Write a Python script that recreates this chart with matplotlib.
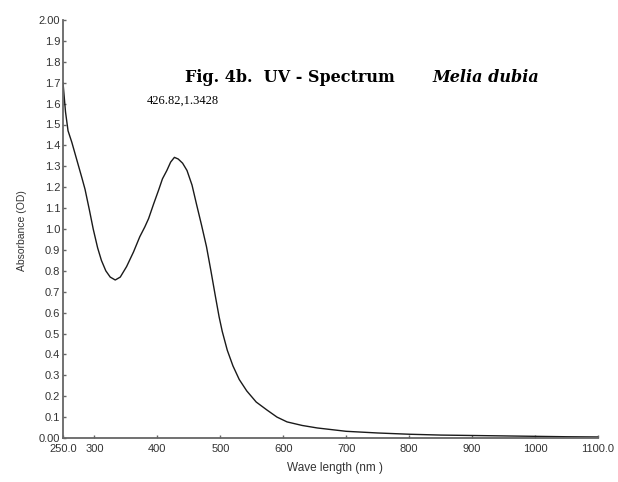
import matplotlib.pyplot as plt
import numpy as np

# UV spectrum, Melia dubia
wavelength = [250, 254, 258, 264, 272, 280, 285, 292, 298, 305, 311, 318, 325, 333, 341, 351,
              362, 372, 380, 386, 394, 402, 408, 415, 421, 427, 433, 440, 447, 455, 462, 470,
              478, 485, 492, 498, 503, 511, 520, 530, 542, 557, 574, 590, 606, 630, 654, 700,
              750, 800, 850, 900, 950, 1000, 1050, 1100]
absorbance = [1.70, 1.56, 1.47, 1.415, 1.33, 1.245, 1.19, 1.09, 1.00, 0.91, 0.85, 0.80, 0.77,
              0.756, 0.77, 0.82, 0.89, 0.963, 1.01, 1.05, 1.12, 1.187, 1.24, 1.28, 1.32, 1.3428,
              1.335, 1.315, 1.28, 1.21, 1.12, 1.02, 0.915, 0.80, 0.68, 0.58, 0.51, 0.42, 0.345,
              0.28, 0.225, 0.172, 0.134, 0.10, 0.077, 0.06, 0.048, 0.032, 0.024, 0.018, 0.014,
              0.012, 0.010, 0.008, 0.006, 0.005]

y_ticks = [round(v, 1) for v in np.arange(0, 2.01, 0.1)]
y_labels = ['0.00'] + [f'{v:.1f}' for v in y_ticks[1:-1]] + ['2.00']
x_ticks = [250, 300, 400, 500, 600, 700, 800, 900, 1000, 1100]
x_labels = ['250.0', '300', '400', '500', '600', '700', '800', '900', '1000', '1100.0']

plt.rcParams['font.family'] = ['Liberation Sans', 'DejaVu Sans']

W, H = 618, 482
fig = plt.figure(figsize=(W / 100, H / 100), dpi=100)
ax = fig.add_axes([63 / W, 1 - 438 / H, 535 / W, 418 / H])

ax.plot(wavelength, absorbance, color='#1a1a1a', lw=1.0)

ax.set_xlim(250, 1100)
ax.set_ylim(0, 2.0)
ax.set_xticks(x_ticks)
ax.set_xticklabels(x_labels)
ax.set_yticks(y_ticks)
ax.set_yticklabels(y_labels)

for side in ['top', 'right']:
    ax.spines[side].set_visible(False)
for side in ['left', 'bottom']:
    ax.spines[side].set_color('#666666')
    ax.spines[side].set_linewidth(1.3)

ax.tick_params(direction='in', length=2.5, width=1, colors='#666666',
               labelsize=8, labelcolor='#333333')
ax.tick_params(axis='x', pad=4)
ax.tick_params(axis='y', pad=2)

# axis titles, placed in pixel positions from the reference
fig.text(335 / W, 1 - 468 / H, 'Wave length (nm )', fontsize=8.5, color='#333333',
         ha='center', va='center')
fig.text(22 / W, 1 - 231 / H, 'Absorbance (OD)', fontsize=7.5, color='#333333',
         ha='center', va='center', rotation=90)

fig.text(185 / W, 1 - 78 / H, 'Fig. 4b.  UV - Spectrum', fontsize=11.5,
         fontweight='bold', family='DejaVu Serif', va='center')
fig.text(432 / W, 1 - 78 / H, 'Melia dubia', fontsize=11.5, fontweight='bold',
         fontstyle='italic', family='DejaVu Serif', va='center')

ax.text(440, 1.612, '426.82,1.3428', fontsize=9, family='Liberation Serif',
        ha='center', va='center')

fig.savefig('out.png', dpi=100)
